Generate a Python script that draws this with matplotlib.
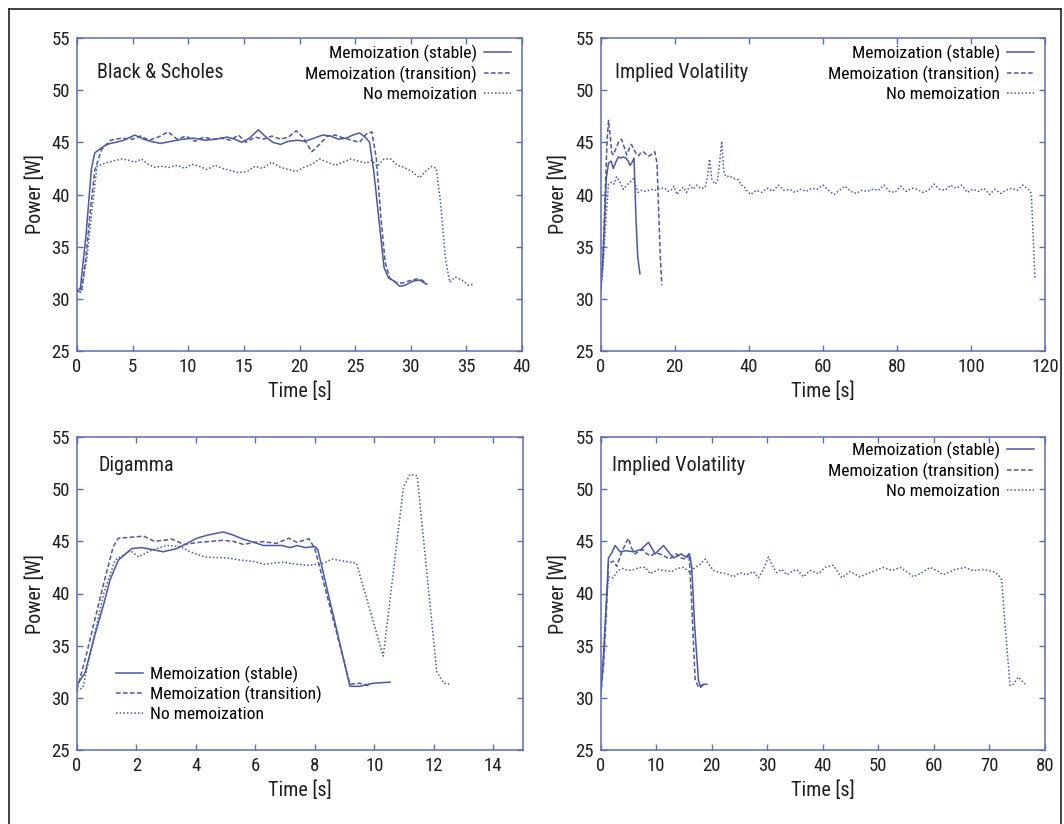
import matplotlib
matplotlib.use("Agg")
import matplotlib.pyplot as plt
from matplotlib.lines import Line2D
from matplotlib import font_manager as fm

_avail = {f.name for f in fm.fontManager.ttflist}
_prefs = ['Liberation Sans Narrow', 'Roboto Condensed', 'Archivo Narrow', 'PT Sans Narrow', 'Arial Narrow',
          'Nimbus Sans Narrow', 'IBM Plex Sans Condensed', 'Fira Sans Condensed', 'Open Sans Condensed',
          'Liberation Sans']
FONT = next((p for p in _prefs if p in _avail), 'DejaVu Sans')
plt.rcParams['font.family'] = [FONT, 'DejaVu Sans']

LINE_C = '#4b57a7'
SPINE_C = '#5f6cb3'

series_labels = ['Memoization (stable)', 'Memoization (transition)', 'No memoization']
y_ticks = [25, 30, 35, 40, 45, 50, 55]

# ---------------- Black & Scholes ----------------
bs_stable_t = [0, 0.3, 0.8, 1.3, 1.6, 2.0, 2.5, 3.0, 3.5, 4.2, 5.2, 6.0, 6.6, 7.5, 8.5, 9.5, 10.5, 11.5, 12.5, 13.5,
               14.2, 14.8, 15.5, 16.3, 17.0, 17.6, 18.3, 19.0, 19.8, 20.5, 21.3, 22.1, 22.8, 23.5, 24.2, 24.8, 25.4,
               26.0, 26.3, 26.7, 27.2, 27.6, 28.0, 28.5, 29.0, 29.5, 30.2, 30.8, 31.4]
bs_stable_p = [30.8, 31.0, 36.0, 42.5, 44.0, 44.3, 44.7, 44.9, 45.0, 45.2, 45.7, 45.3, 45.1, 44.9, 45.1, 45.3, 45.4, 45.2, 45.3, 45.5,
               45.3, 45.0, 45.4, 46.2, 45.5, 45.0, 44.8, 45.1, 45.2, 45.1, 45.4, 45.7, 45.6, 45.3, 45.4, 45.7, 45.9,
               45.4, 45.0, 42.0, 37.0, 33.0, 32.0, 31.7, 31.2, 31.3, 31.7, 31.8, 31.4]
bs_trans_t = [0, 0.4, 0.8, 1.2, 1.6, 2.2, 3.0, 4.0, 5.0, 5.7, 6.5, 7.3, 8.2, 9.0, 9.8, 10.6, 11.4, 12.2, 13.0, 13.8,
              14.5, 15.2, 16.0, 16.8, 17.5, 18.3, 19.0, 19.7, 20.3, 21.1, 21.8, 22.5, 23.2, 24.0, 24.7, 25.4, 26.0,
              26.5, 26.9, 27.3, 27.7, 28.1, 28.6, 29.2, 29.8, 30.5, 31.0, 31.5]
bs_trans_p = [30.8, 30.6, 34.0, 38.5, 42.3, 44.3, 45.2, 45.4, 45.3, 45.6, 45.2, 45.5, 46.0, 45.3, 45.6, 45.1, 45.5, 45.3, 45.4, 45.2,
              45.7, 45.0, 45.5, 45.3, 45.6, 45.3, 45.5, 46.1, 45.5, 44.1, 44.8, 45.6, 45.7, 45.4, 45.2, 45.0, 45.8,
              46.0, 43.5, 38.0, 33.5, 32.0, 31.6, 31.5, 31.7, 31.9, 31.8, 31.4]
bs_nomemo_t = [0, 0.4, 0.9, 1.4, 1.8, 2.5, 3.2, 4.0, 4.6, 5.2, 5.8, 6.4, 7.0, 7.6, 8.3, 9.0, 9.7, 10.3, 11.0, 11.7,
               12.4, 13.1, 13.8, 14.5, 15.3, 16.0, 16.7, 17.5, 18.3, 19.0, 19.7, 20.4, 21.1, 21.8, 22.5, 23.2, 23.9,
               24.6, 25.3, 26.0, 26.5, 27.0, 27.6, 28.2, 28.8, 29.4, 30.1, 30.8, 31.4, 31.9, 32.3, 32.7, 33.1, 33.5,
               34.0, 34.6, 35.2, 35.6]
bs_nomemo_p = [30.7, 30.9, 34.0, 39.0, 42.7, 43.0, 43.2, 43.4, 43.3, 43.1, 43.4, 42.9, 42.6, 42.7, 42.6, 42.8, 42.5, 42.9, 42.7, 42.4,
               42.8, 42.5, 42.3, 42.1, 42.2, 42.7, 42.5, 43.1, 42.6, 42.4, 42.2, 42.6, 42.9, 43.4, 43.1, 42.8, 43.1,
               43.4, 43.2, 43.0, 43.3, 42.7, 43.4, 43.4, 42.8, 42.6, 42.2, 41.6, 42.3, 42.7, 42.5, 39.0, 34.0, 31.6,
               32.1, 31.8, 31.3, 31.4]

# ---------------- Implied Volatility (top) ----------------
iv1_stable_t = [0, 0.5, 1.0, 1.5, 2.1, 2.8, 3.4, 4.2, 4.8, 5.5, 6.1, 6.8, 7.4, 7.9, 8.5, 9.0, 9.5, 10.0, 10.6]
iv1_stable_p = [30.9, 33.0, 37.0, 41.5, 43.0, 43.2, 42.5, 43.2, 43.6, 43.5, 43.6, 43.5, 43.2, 42.8, 43.1, 43.5, 38.0, 34.0, 32.4]
iv1_trans_t = [0, 0.6, 1.2, 1.7, 2.1, 2.6, 3.0, 3.4, 4.0, 4.8, 5.6, 6.3, 7.0, 7.6, 8.3, 9.0, 9.6, 10.2, 10.8, 11.4,
               11.9, 12.5, 13.2, 13.9, 14.6, 15.2, 15.7, 16.1, 16.5]
iv1_trans_p = [31.2, 34.0, 40.0, 45.0, 47.1, 45.5, 44.0, 43.8, 44.3, 45.0, 45.3, 44.6, 43.8, 44.3, 44.8, 44.3, 43.9, 43.7, 44.0, 44.1,
               44.0, 43.7, 43.7, 43.9, 44.1, 43.0, 38.0, 34.0, 31.3]
iv1_nomemo_t = [0, 0.7, 1.4, 2.1, 3.0, 3.6, 4.3, 5.2, 6.1, 7.4, 8.8, 10.1, 11.0, 12.0, 13.0, 14.0, 15.0, 16.0, 17.3, 18.2,
                19.0, 19.8, 20.6, 21.4, 22.3, 23.2, 24.1, 25.0, 26.0, 26.9, 27.6, 28.2, 28.8, 29.4, 30.0, 30.8, 31.5,
                32.1, 32.7, 33.3, 34.0, 34.8, 35.5, 36.3, 37.2, 38.0, 38.7, 39.4,
                40.5, 42.0, 43.5, 45.0, 46.5, 48.0, 49.5, 51.0, 52.5, 54.0, 55.5, 57.0, 58.5, 60.0, 61.5, 63.0, 64.5,
                66.0, 67.5, 69.0, 70.5, 72.0, 73.5, 75.0, 76.5, 78.0, 79.5, 81.0, 82.5, 84.0, 85.5, 87.0, 88.5, 90.0,
                91.5, 93.0, 94.5, 96.0, 97.5, 99.0, 100.5, 102.0, 103.5, 105.0, 106.5, 108.0, 109.5, 111.0, 112.5,
                114.0, 115.5, 116.3, 117.3]
iv1_nomemo_p = [30.7, 33.5, 37.5, 41.0, 41.2, 41.0, 41.7, 41.2, 40.5, 41.0, 41.5, 40.2, 40.4, 40.3, 40.4, 40.5, 40.4, 40.6, 40.6, 40.3,
                40.4, 40.8, 40.0, 40.4, 40.7, 40.2, 40.9, 40.5, 40.9, 40.6, 40.6, 40.7, 41.5, 43.4, 41.5, 41.0, 41.2,
                43.0, 45.1, 42.0, 41.7, 41.8, 41.6, 41.5, 41.4, 40.9, 40.8, 40.4,
                40.0, 40.4, 40.2, 40.6, 40.3, 40.9, 40.4, 40.5, 40.2, 40.5, 40.3, 40.6, 40.5, 40.9, 40.4, 40.0, 40.4,
                40.8, 40.3, 40.1, 40.4, 40.3, 40.5, 40.4, 40.9, 40.3, 40.2, 40.8, 40.3, 40.6, 40.5, 40.2, 40.4, 41.0,
                40.5, 40.4, 40.9, 40.6, 40.9, 40.2, 40.5, 40.3, 40.6, 40.0, 40.5, 40.1, 40.4, 40.6, 40.4,
                40.9, 40.5, 40.1, 31.9]

# ---------------- Digamma ----------------
dg_stable_t = [0, 0.27, 0.6, 0.9, 1.11, 1.39, 1.84, 2.17, 2.55, 2.9, 3.35, 3.7, 4.03, 4.4, 4.92, 5.25, 5.6, 5.95, 6.27, 6.6,
               6.89, 7.17, 7.4, 7.68, 8.0, 8.1, 9.18, 9.5, 9.8, 9.97, 10.53]
dg_stable_p = [31.25, 32.4, 36.0, 39.0, 41.3, 43.2, 44.3, 44.4, 44.2, 44.0, 44.3, 44.8, 45.3, 45.6, 45.9, 45.6, 45.2, 44.9, 44.6, 44.6,
               44.6, 44.4, 44.6, 44.4, 44.5, 44.2, 31.1, 31.1, 31.3, 31.4, 31.5]
dg_trans_t = [0, 0.33, 0.6, 0.9, 1.22, 1.39, 1.84, 2.24, 2.6, 3.2, 3.6, 4.1, 4.5, 4.9, 5.25, 5.6, 5.95, 6.27, 6.7, 7.12,
              7.4, 7.8, 8.0, 9.18, 9.5, 9.86]
dg_trans_p = [30.8, 34.3, 37.5, 41.0, 44.5, 45.3, 45.4, 45.5, 45.0, 45.2, 44.7, 44.9, 45.0, 45.1, 45.0, 44.7, 44.9, 44.97, 44.8, 45.3,
              44.9, 45.25, 44.3, 31.3, 31.4, 31.1]
dg_nomemo_t = [0, 0.2, 0.55, 0.9, 1.28, 1.45, 1.8, 2.07, 2.47, 3.0, 3.48, 3.8, 4.3, 5.06, 5.51, 5.9, 6.3, 6.9, 7.4, 7.8,
               8.3, 8.57, 9.4, 10.3, 10.98, 11.2, 11.44, 12.1, 12.33, 12.55]
dg_nomemo_p = [30.65, 31.0, 35.6, 40.0, 43.2, 43.5, 44.1, 43.5, 44.1, 44.6, 44.5, 44.0, 43.5, 43.4, 43.2, 43.1, 42.8, 43.0, 42.8, 42.7,
               42.9, 43.3, 42.9, 34.0, 50.2, 51.4, 51.3, 32.5, 31.4, 31.3]

# ---------------- Implied Volatility (bottom) ----------------
iv2_stable_t = [0, 0.5, 1.0, 1.4, 2.0, 2.6, 3.5, 4.5, 5.9, 7.2, 8.6, 9.8, 11.3, 12.2, 13.1, 13.8, 14.5, 15.3, 16.0, 16.4,
                16.9, 17.6, 18.0, 18.5, 19.1]
iv2_stable_p = [30.5, 34.0, 39.0, 43.4, 43.9, 44.6, 44.0, 44.1, 44.0, 44.2, 44.9, 43.8, 44.6, 44.0, 43.4, 43.6, 43.8, 43.5, 43.8, 42.5,
                37.0, 31.7, 31.0, 31.3, 31.3]
iv2_trans_t = [0, 0.5, 1.0, 1.4, 2.3, 2.9, 3.8, 4.97, 5.6, 6.2, 7.0, 7.6, 8.3, 9.1, 9.8, 10.6, 11.4, 12.4, 13.0, 13.6,
               14.4, 15.4, 15.9, 16.3, 17.0, 17.6, 18.2, 18.8]
iv2_trans_p = [30.3, 33.0, 38.0, 42.9, 43.1, 42.6, 44.0, 45.3, 44.3, 43.8, 44.1, 44.2, 43.8, 43.6, 43.9, 43.8, 43.6, 43.3, 43.6, 43.8,
               43.4, 43.3, 43.8, 40.0, 31.8, 31.0, 31.2, 31.3]
iv2_nomemo_t = [0, 0.6, 1.0, 1.4, 2.2, 3.1, 4.0, 5.0, 6.0, 7.0, 8.0, 8.9, 9.7, 10.4, 11.6, 12.8, 13.8, 14.9, 16.1, 17.0,
                17.9, 18.8, 19.6, 20.3, 21.5, 22.7, 23.9, 25.1, 26.3, 27.5, 28.4, 29.3, 30.2, 31.0, 31.7, 32.6, 33.5,
                34.4, 35.3, 36.5, 37.7, 39.2, 40.4, 41.9, 43.4, 44.9, 46.7, 48.5, 50.9, 52.4, 53.9, 55.1, 56.3, 57.5,
                59.3, 60.5, 61.7, 63.8, 65.6, 67.1, 68.9, 70.7, 71.6, 72.2, 72.8, 73.7, 74.3, 75.2, 76.4]
iv2_nomemo_p = [30.0, 35.0, 39.0, 41.6, 41.5, 42.2, 42.4, 42.2, 42.3, 42.5, 42.5, 41.9, 42.1, 42.3, 42.2, 42.1, 42.4, 42.5, 42.0, 42.5,
                42.8, 43.3, 42.7, 42.2, 42.0, 41.9, 41.6, 42.0, 41.8, 42.1, 41.5, 42.3, 43.5, 42.6, 42.0, 42.3, 41.8,
                42.1, 42.3, 41.6, 42.2, 41.9, 42.5, 42.7, 41.5, 42.1, 41.6, 42.0, 42.5, 42.2, 42.5, 42.1, 41.6, 41.9,
                42.5, 42.2, 41.8, 42.3, 42.5, 42.2, 42.3, 42.1, 41.8, 41.3, 37.0, 31.2, 31.3, 32.0, 31.3]

panels = [
    dict(title='Black & Scholes', xlim=40, xticks=[0, 5, 10, 15, 20, 25, 30, 35, 40],
         data=[(bs_stable_t, bs_stable_p), (bs_trans_t, bs_trans_p), (bs_nomemo_t, bs_nomemo_p)],
         rect=(77, 38, 445, 313), title_pos=(0.045, 0.891), legend='upper'),
    dict(title='Implied Volatility', xlim=120, xticks=[0, 20, 40, 60, 80, 100, 120],
         data=[(iv1_stable_t, iv1_stable_p), (iv1_trans_t, iv1_trans_p), (iv1_nomemo_t, iv1_nomemo_p)],
         rect=(600.7, 38, 444.3, 313), title_pos=(0.032, 0.891), legend='upper'),
    dict(title='Digamma', xlim=15, xticks=[0, 2, 4, 6, 8, 10, 12, 14],
         data=[(dg_stable_t, dg_stable_p), (dg_trans_t, dg_trans_p), (dg_nomemo_t, dg_nomemo_p)],
         rect=(77, 437, 446, 313), title_pos=(0.049, 0.91), legend='lower'),
    dict(title='Implied Volatility', xlim=80, xticks=[0, 10, 20, 30, 40, 50, 60, 70, 80],
         data=[(iv2_stable_t, iv2_stable_p), (iv2_trans_t, iv2_trans_p), (iv2_nomemo_t, iv2_nomemo_p)],
         rect=(600.7, 437, 444.3, 313), title_pos=(0.025, 0.91), legend='upper2'),
]

for p in panels:
    for t, v in p['data']:
        assert len(t) == len(v), (p['title'], len(t), len(v))

W, H = 1064, 824
fig = plt.figure(figsize=(W / 100, H / 100), dpi=100)

styles = [dict(linestyle='-'), dict(linestyle=(0, (3.0, 1.6))), dict(linestyle=(0, (1.0, 1.4)))]
FS_TICK = 13.5
FS_LAB = 14.5
FS_LEG = 12.6
TXT_C = '#1e1e1e'

for p in panels:
    x0, y0, w, h = p['rect']
    ax = fig.add_axes([x0 / W, 1 - (y0 + h) / H, w / W, h / H])
    for (t, v), st, lab in zip(p['data'], styles, series_labels):
        ax.plot(t, v, color=LINE_C, linewidth=1.1, label=lab, **st)
    ax.set_xlim(0, p['xlim'])
    ax.set_ylim(25, 55)
    ax.set_xticks(p['xticks'])
    ax.set_yticks(y_ticks)
    for s in ax.spines.values():
        s.set_color(SPINE_C)
        s.set_linewidth(1.1)
    ax.tick_params(direction='in', top=True, right=True, length=4, width=1, color=SPINE_C,
                   labelsize=FS_TICK, labelcolor=TXT_C, pad=5)
    ax.set_xlabel('Time [s]', fontsize=FS_LAB, color=TXT_C, labelpad=4)
    ax.set_ylabel('Power [W]', fontsize=FS_LAB, color=TXT_C, labelpad=5)
    ax.text(p['title_pos'][0], p['title_pos'][1], p['title'], transform=ax.transAxes,
            fontsize=FS_LAB, color=TXT_C, ha='left', va='center')
    if p['legend'] == 'lower':
        ax.legend(loc='lower left', bbox_to_anchor=(0.087, 0.089), frameon=False, fontsize=FS_LEG,
                  handlelength=1.55, handletextpad=0.4, labelspacing=0.2, borderpad=0, borderaxespad=0)
    else:
        yb = 0.978 if p['legend'] == 'upper' else 0.984
        leg = ax.legend(loc='upper right', bbox_to_anchor=(0.975, yb), frameon=False, fontsize=FS_LEG,
                        markerfirst=False, handlelength=1.55, handletextpad=0.4, labelspacing=0.2,
                        borderpad=0, borderaxespad=0)
        for txt in leg.get_texts():
            txt.set_ha('right')

# outer frame
frame_c = '#333333'
fig.add_artist(Line2D([9 / W, 9 / W], [0, 1 - 9 / H], color=frame_c, linewidth=1.3))
fig.add_artist(Line2D([9 / W, 1061 / W], [1 - 9 / H, 1 - 9 / H], color=frame_c, linewidth=1.3))
fig.add_artist(Line2D([1061 / W, 1061 / W], [0, 1 - 9 / H], color=frame_c, linewidth=1.3))

fig.savefig('out.png', dpi=100)
